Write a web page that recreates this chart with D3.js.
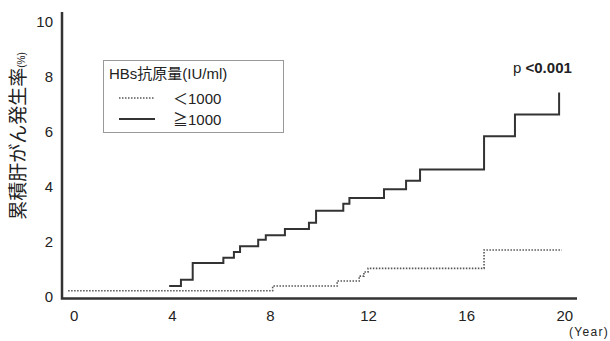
<!DOCTYPE html>
<html>
<head>
<meta charset="utf-8">
<script src="https://cdn.jsdelivr.net/npm/d3@7"></script>
<style>
  body { margin: 0; background: #fff; }
  text { font-family: "Liberation Sans", "Noto Sans CJK JP", sans-serif; fill: #222; }
</style>
</head>
<body>
<svg></svg>
<script>
// values
const xTicks = [0, 4, 8, 12, 16, 20];
const yTicks = [0, 2, 4, 6, 8, 10];

// >=1000 group (solid)
const highYears = [3.87, 4.35, 4.83, 6.08, 6.51, 6.76, 7.50, 7.81, 8.59, 9.57, 9.86, 10.97, 11.22, 12.63, 13.53, 14.10, 16.71, 17.97, 19.77];
const highRate  = [0.40, 0.63, 1.24, 1.43, 1.64, 1.85, 2.08, 2.25, 2.47, 2.70, 3.14, 3.39, 3.60, 3.92, 4.23, 4.64, 5.85, 6.64, 7.44];

// <1000 group (dotted)
const lowYears = [-0.25, 8.09, 10.72, 11.62, 11.81, 11.98, 16.71, 19.88];
const lowRate  = [0.23, 0.40, 0.58, 0.76, 0.91, 1.04, 1.71, 1.71];

const w = 610, h = 341;
const svg = d3.select("svg").attr("width", w).attr("height", h);

const xScale = d3.scaleLinear().domain([-0.5, 20.5]).range([62, 577]);
const yScale = d3.scaleLinear().domain([0, 10]).range([297, 22]);
const axisBottomY = 298.5;
const axisTopY = 12;

// axes (plain lines, no tick marks)
svg.append("path")
   .attr("d", "M" + xScale.range()[0] + "," + axisTopY +
              "V" + axisBottomY + "H" + xScale.range()[1])
   .attr("fill", "none")
   .attr("stroke", "#333")
   .attr("stroke-width", 2.5);

svg.selectAll(".ytick")
   .data(yTicks)
   .enter().append("text")
   .attr("class", "ytick")
   .attr("x", 53)
   .attr("y", d => yScale(d))
   .attr("dy", "0.36em")
   .attr("text-anchor", "end")
   .attr("font-size", 15)
   .text(d => d);

svg.selectAll(".xtick")
   .data(xTicks)
   .enter().append("text")
   .attr("class", "xtick")
   .attr("x", d => xScale(d))
   .attr("y", 321)
   .attr("text-anchor", "middle")
   .attr("font-size", 15)
   .text(d => d);

svg.append("text")
   .attr("x", 609)
   .attr("y", 336)
   .attr("text-anchor", "end")
   .attr("font-size", 12)
   .attr("letter-spacing", 1.3)
   .text("(Year)");

// y axis title
const yTitle = svg.append("text")
   .attr("transform", "translate(25,136) rotate(-90)")
   .attr("text-anchor", "middle")
   .attr("font-size", 19);
yTitle.append("tspan").text("累積肝がん発生率");
yTitle.append("tspan").attr("font-size", 10).text("(%)");

// step lines
const line = d3.line()
   .x(d => xScale(d[0]))
   .y(d => yScale(d[1]))
   .curve(d3.curveStepAfter);

svg.append("path")
   .datum(lowYears.map((x, i) => [x, lowRate[i]]))
   .attr("fill", "none")
   .attr("stroke", "#555")
   .attr("stroke-width", 1.6)
   .attr("stroke-dasharray", "1.5,1.5")
   .attr("d", line);

svg.append("path")
   .datum(highYears.map((x, i) => [x, highRate[i]]))
   .attr("fill", "none")
   .attr("stroke", "#333")
   .attr("stroke-width", 2)
   .attr("d", line);

// legend
const legend = svg.append("g");
legend.append("rect")
   .attr("x", 103.5).attr("y", 60.5)
   .attr("width", 180).attr("height", 72)
   .attr("fill", "#fff")
   .attr("stroke", "#999")
   .attr("stroke-width", 1);
legend.append("text")
   .attr("x", 109).attr("y", 79)
   .attr("font-size", 15)
   .text("HBs抗原量(IU/ml)");
legend.append("line")
   .attr("x1", 119).attr("x2", 155).attr("y1", 98).attr("y2", 98)
   .attr("stroke", "#555").attr("stroke-width", 1.6)
   .attr("stroke-dasharray", "1.5,1.5");
legend.append("text")
   .attr("x", 173).attr("y", 104)
   .attr("font-size", 15)
   .text("＜1000");
legend.append("line")
   .attr("x1", 119).attr("x2", 155).attr("y1", 119).attr("y2", 119)
   .attr("stroke", "#333").attr("stroke-width", 2);
legend.append("text")
   .attr("x", 173).attr("y", 125)
   .attr("font-size", 15)
   .text("≧1000");

// p value
const pText = svg.append("text")
   .attr("x", 513).attr("y", 73)
   .attr("font-size", 15);
pText.append("tspan").text("p ");
pText.append("tspan").attr("font-weight", "bold").text("<0.001");
</script>
</body>
</html>
